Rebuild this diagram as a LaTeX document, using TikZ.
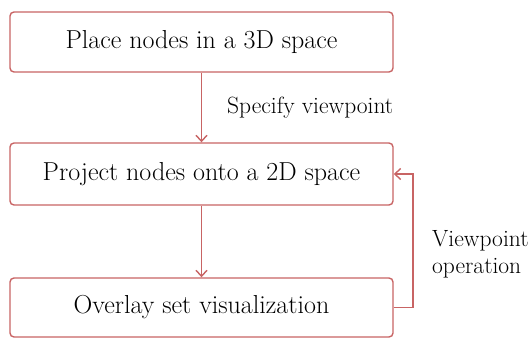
\documentclass[tikz,border=0pt]{standalone}
\usetikzlibrary{arrows.meta}
\definecolor{edgered}{RGB}{200,100,100}
\tikzset{
  box/.style={draw=edgered, line width=1.4pt, rounded corners=4pt, minimum width=383pt, minimum height=60pt, inner sep=0pt, font=\fontsize{26}{30}\selectfont},
  conn/.style={draw=edgered, line width=1.4pt, -{Straight Barb[length=6pt,width=11pt,line width=1.4pt]}},
  lbl/.style={font=\fontsize{23.5}{27}\selectfont, inner sep=0pt, align=left}
}
\begin{document}
\begin{tikzpicture}[x=1pt,y=-1pt]
\useasboundingbox (0,0) rectangle (529,339);
\node[box] (b1) at (201.5,42) {Place nodes in a 3D space};
\node[box, minimum height=62pt] (b2) at (201.5,174) {Project nodes onto a 2D space};
\node[box, minimum height=59pt] (b3) at (201.5,307.5) {Overlay set visualization};
\draw[conn] (b1) -- (b2);
\draw[conn] (b2) -- (b3);
\coordinate (c1) at (413,307.5);
\coordinate (c2) at (413,174);
\draw[conn] (b3.east) -- (c1) -- (c2) -- (b2.east);
\node[lbl, anchor=west] (s1) at (227,108) {Specify viewpoint};
\node[lbl, anchor=west] (s2) at (432,254) {Viewpoint\\operation};
\end{tikzpicture}
\end{document}
